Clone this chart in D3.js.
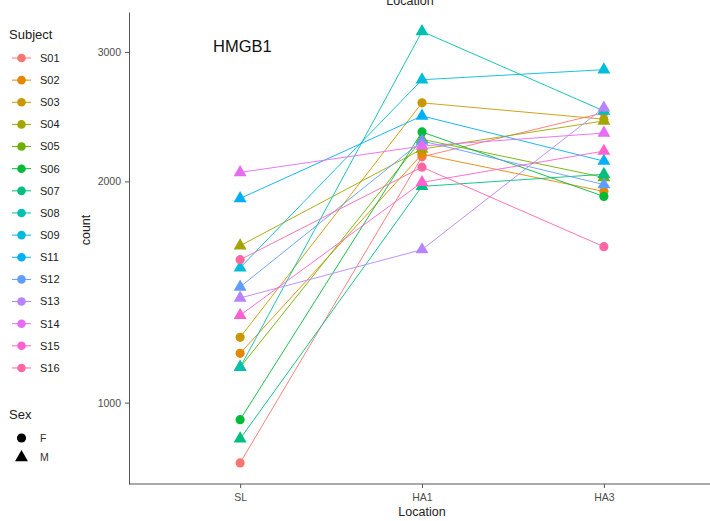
<!DOCTYPE html>
<html>
<head>
<meta charset="utf-8">
<script src="https://cdn.jsdelivr.net/npm/d3@7"></script>
<style>
  body { margin: 0; background: #fff; }
  svg { font-family: "Liberation Sans", Arial, sans-serif; }
  .tick text { fill: #4d4d4d; font-size: 10.5px; }
  .domain, .tick line { stroke: #555; }
</style>
</head>
<body>
<svg id="chart"></svg>
<script>
// values
const subjects = ['S01', 'S02', 'S03', 'S04', 'S05', 'S06', 'S07', 'S08',
                  'S09', 'S11', 'S12', 'S13', 'S14', 'S15', 'S16'];
const sexes = ['F', 'F', 'F', 'M', 'M', 'F', 'M', 'M', 'M', 'M', 'M', 'M', 'M', 'M', 'F'];
const locations = ['SL', 'HA1', 'HA3'];
const countSL  = [828, 1167, 1227, 1635, 1117, 948, 893, 1117, 1526, 1896, 1437, 1388, 2057, 1315, 1565];
const countHA1 = [2160, 2178, 2558, 2213, 2282, 2335, 1969, 3199, 2750, 2455, 2270, 1615, 2234, 1994, 2091];
const countHA3 = [2480, 1938, 2430, 2417, 2025, 1908, 2045, 2494, 2838, 2131, 1980, 2518, 2327, 2199, 1630];
const yTicks = [1000, 2000, 3000];
const sexLevels = ['F', 'M'];
const subjectColors = ['#F8766D', '#E58700', '#C99800', '#A3A500', '#6BB100', '#00BA38', '#00BF7D',
                       '#00C0AF', '#00BCD8', '#00B0F6', '#619CFF', '#B983FF', '#E76BF3', '#FD61D1', '#FF67A4'];

const width = 710, height = 521;
const margin = { top: 12, right: 0, bottom: 37, left: 129 };
const plotW = 713 - margin.left;
const plotH = height - margin.top - margin.bottom;

const svg = d3.select('#chart').attr('width', width).attr('height', height);
const chart = svg.append('g').attr('transform', `translate(${margin.left}, ${margin.top})`);

const xScale = d3.scalePoint().domain(locations).range([2, plotW]).padding(0.6);
const yScale = d3.scaleLog().domain([775, 3400]).range([plotH, 0]);
const color = d3.scaleOrdinal().domain(subjects).range(subjectColors);

const rows = subjects.map((s, i) => ({
    subject: s,
    sex: sexes[i],
    values: [countSL[i], countHA1[i], countHA3[i]].map((v, j) => ({ loc: locations[j], count: v }))
}));

const symbolFor = sex => sex === 'F' ? d3.symbolCircle : d3.symbolTriangle;
const symbolSize = sex => sex === 'F' ? 66 : 72;

// lines
const line = d3.line().x(d => xScale(d.loc)).y(d => yScale(d.count));
chart.append('g')
    .selectAll('path')
    .data(rows)
    .join('path')
        .attr('d', d => line(d.values))
        .attr('fill', 'none')
        .attr('stroke', d => color(d.subject))
        .attr('stroke-width', 0.9);

// points
const points = rows.flatMap(r => r.values.map(v => ({ subject: r.subject, sex: r.sex, loc: v.loc, count: v.count })));
chart.append('g')
    .selectAll('path')
    .data(points)
    .join('path')
        .attr('transform', d => `translate(${xScale(d.loc)}, ${yScale(d.count)})`)
        .attr('d', d => d3.symbol().type(symbolFor(d.sex)).size(symbolSize(d.sex))())
        .attr('fill', d => color(d.subject));

// axes
chart.append('g')
    .call(d3.axisLeft(yScale).tickValues(yTicks).tickFormat(d3.format('d')).tickSize(4).tickSizeOuter(0).tickPadding(4));
const xAxisG = chart.append('g')
    .attr('transform', `translate(0, ${plotH})`)
    .call(d3.axisBottom(xScale).tickSize(4).tickSizeOuter(0).tickPadding(4));
xAxisG.select('.domain').attr('d', `M0,0H${width - margin.left}`);
xAxisG.selectAll('.tick text').attr('dy', '0.9em');

svg.append('text')
    .attr('transform', `translate(90, 230) rotate(-90)`)
    .attr('text-anchor', 'middle')
    .attr('font-size', 12.5)
    .attr('fill', '#222')
    .text('count');

svg.append('text')
    .attr('x', margin.left + xScale('HA1'))
    .attr('y', 516)
    .attr('text-anchor', 'middle')
    .attr('font-size', 12.5)
    .attr('fill', '#222')
    .text('Location');

// cut-off title of the panel above
svg.append('text')
    .attr('x', 410)
    .attr('y', 5)
    .attr('text-anchor', 'middle')
    .attr('font-size', 12.5)
    .attr('fill', '#222')
    .text('Location');

svg.append('text')
    .attr('x', 213)
    .attr('y', 52)
    .attr('font-size', 16.5)
    .attr('fill', '#111')
    .text('HMGB1');

// legend: Subject
const legend = svg.append('g');
legend.append('text')
    .attr('x', 9).attr('y', 39)
    .attr('font-size', 13).attr('fill', '#222')
    .text('Subject');

const keys = legend.selectAll('.key').data(subjects).join('g')
    .attr('class', 'key')
    .attr('transform', (d, i) => `translate(0, ${58 + i * 22.14})`);
keys.append('line')
    .attr('x1', 12).attr('x2', 31)
    .attr('stroke', d => color(d)).attr('stroke-width', 1);
keys.append('circle')
    .attr('cx', 21.5).attr('r', 4.3)
    .attr('fill', d => color(d));
keys.append('text')
    .attr('x', 40).attr('dy', '0.35em')
    .attr('font-size', 11).attr('fill', '#222')
    .text(d => d);

// legend: Sex
legend.append('text')
    .attr('x', 9).attr('y', 419)
    .attr('font-size', 13).attr('fill', '#222')
    .text('Sex');
const sexKeys = legend.selectAll('.sexkey').data(sexLevels).join('g')
    .attr('class', 'sexkey')
    .attr('transform', (d, i) => `translate(0, ${438 + i * 19.5})`);
sexKeys.append('path')
    .attr('transform', 'translate(21.5, 0)')
    .attr('d', d => d3.symbol().type(symbolFor(d)).size(symbolSize(d))())
    .attr('fill', '#000');
sexKeys.append('text')
    .attr('x', 40).attr('dy', '0.35em')
    .attr('font-size', 10.5).attr('fill', '#333')
    .text(d => d);
</script>
</body>
</html>
